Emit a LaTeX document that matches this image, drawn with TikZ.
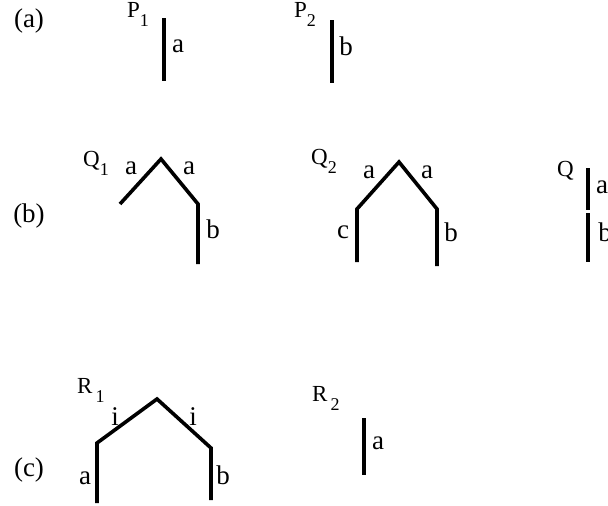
\documentclass[tikz,border=0pt]{standalone}
\usepackage{fontspec}
\setmainfont{Liberation Serif}
\newcommand{\pname}[2]{#1\raisebox{-0.42em}{\fontsize{18}{18}\selectfont #2}}
\begin{document}
\begin{tikzpicture}[x=1pt,y=-1pt,
  stroke/.style={line width=3.6pt},
  lbl/.style={font=\fontsize{27}{27}\selectfont,inner sep=0pt},
  pn/.style={font=\fontsize{23}{23}\selectfont,inner sep=0pt,anchor=base west}]
\useasboundingbox (0,0) rectangle (608,506);
% (a)
\node[lbl] (parta) at (29,21) {(a)};
\node[pn] (p1) at (127,17) {\pname{P}{1}};
\coordinate (p1t) at (164,18);
\coordinate (p1b) at (164,81);
\draw[stroke] (p1t) -- (p1b);
\node[lbl] (p1a) at (178,46) {a};
\node[pn] (p2) at (294,17) {\pname{P}{2}};
\coordinate (p2t) at (332,20);
\coordinate (p2b) at (332,83);
\draw[stroke] (p2t) -- (p2b);
\node[lbl] (p2b) at (346,46) {b};
% (b)
\node[lbl] (partb) at (29,216) {(b)};
\node[pn] (q1) at (83,166) {\pname{Q}{1}};
\coordinate (q1l) at (120,204);
\coordinate (q1m) at (161,159);
\coordinate (q1r) at (198,204);
\coordinate (q1d) at (198,264);
\draw[stroke] (q1l) -- (q1m) -- (q1r) -- (q1d);
\node[lbl] (q1a) at (131,168) {a};
\node[lbl] (q1a') at (189,168) {a};
\node[lbl] (q1b) at (213,229) {b};
\node[pn] (q2) at (311,164) {\pname{Q}{2}};
\coordinate (q2ld) at (357,262);
\coordinate (q2l) at (357,209);
\coordinate (q2m) at (399,162);
\coordinate (q2r) at (437,209);
\coordinate (q2rd) at (437,266);
\draw[stroke] (q2ld) -- (q2l) -- (q2m) -- (q2r) -- (q2rd);
\node[lbl] (q2a) at (369,172) {a};
\node[lbl] (q2a') at (427,172) {a};
\node[lbl] (q2c) at (343,232) {c};
\node[lbl] (q2b) at (451,232) {b};
\node[pn] (q) at (557,176) {Q};
\coordinate (qt) at (588,168);
\coordinate (qm) at (588,210);
\coordinate (qm') at (588,213);
\coordinate (qb) at (588,262);
\draw[stroke] (qt) -- (qm);
\draw[stroke] (qm') -- (qb);
\node[lbl] (qa) at (602,187) {a};
\node[lbl] (qbl) at (605,232) {b};
% (c)
\node[lbl] (partc) at (29,470) {(c)};
\node[pn] (r1) at (77,393) {R\hspace{3pt}\pname{}{1}};
\coordinate (r1ld) at (97,503);
\coordinate (r1l) at (97,443);
\coordinate (r1m) at (157,399);
\coordinate (r1r) at (211,448);
\coordinate (r1rd) at (211,500);
\draw[stroke] (r1ld) -- (r1l) -- (r1m) -- (r1r) -- (r1rd);
\node[lbl] (r1i) at (115,417) {i};
\node[lbl] (r1i') at (193,417) {i};
\node[lbl] (r1a) at (85,478) {a};
\node[lbl] (r1b) at (223,475) {b};
\node[pn] (r2) at (312,401) {R\hspace{3pt}\pname{}{2}};
\coordinate (r2t) at (364,418);
\coordinate (r2b) at (364,475);
\draw[stroke] (r2t) -- (r2b);
\node[lbl] (r2a) at (378,443) {a};
\end{tikzpicture}
\end{document}
